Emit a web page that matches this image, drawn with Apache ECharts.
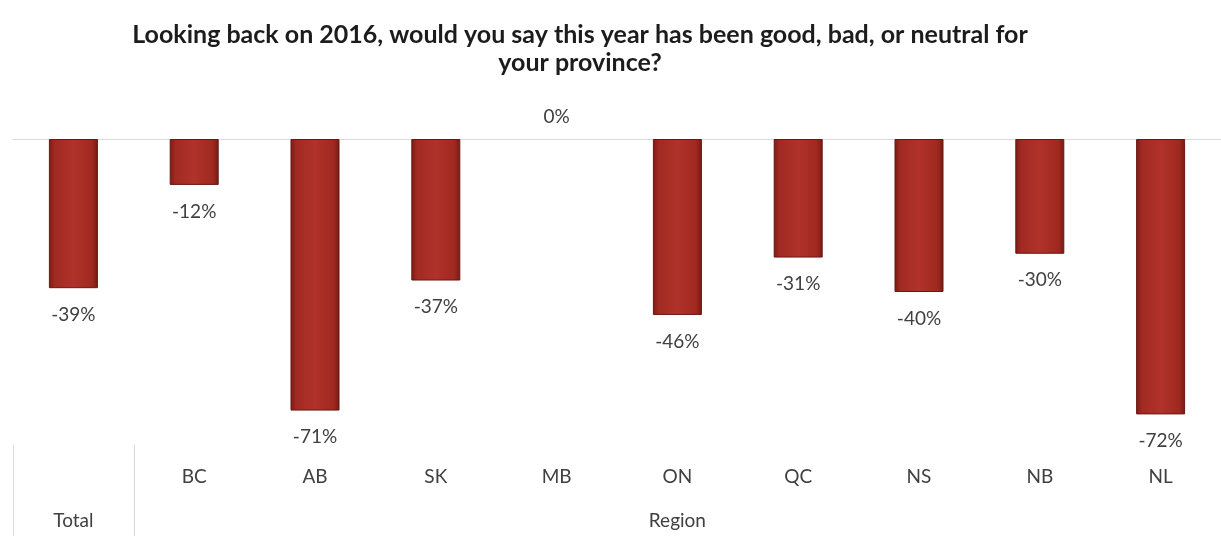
<!DOCTYPE html>
<html>
<head>
<meta charset="utf-8">
<script src="https://cdn.jsdelivr.net/npm/echarts@6/dist/echarts.min.js"></script>
<style>
  html, body { margin: 0; padding: 0; background: #ffffff; }
  #chart { width: 1221px; height: 536px; }
</style>
</head>
<body>
<div id="chart"></div>
<script>
const categories = ['Total', 'BC', 'AB', 'SK', 'MB', 'ON', 'QC', 'NS', 'NB', 'NL'];
const values = [-39, -12, -71, -37, 0, -46, -31, -40, -30, -72];
const groupLabels = ['Total', '', '', '', '', 'Region', '', '', '', ''];
const titleText = 'Looking back on 2016, would you say this year has been good, bad, or neutral for\nyour province?';

const chart = echarts.init(document.getElementById('chart'), null, { renderer: 'canvas' });

const barColor = new echarts.graphic.LinearGradient(0, 0, 1, 0, [
  { offset: 0, color: '#7c1c16' },
  { offset: 0.12, color: '#a12a22' },
  { offset: 0.5, color: '#b0322a' },
  { offset: 0.88, color: '#a0291f' },
  { offset: 1, color: '#741a14' }
]);

const labelColor = '#404040';
const font = 'Lato, "Open Sans", sans-serif';

chart.setOption({
  animation: false,
  backgroundColor: '#ffffff',
  title: {
    text: titleText,
    left: 580,
    top: 21,
    padding: 0,
    textAlign: 'center',
    textStyle: {
      fontFamily: font,
      fontWeight: 'bold',
      fontSize: 25,
      lineHeight: 28,
      color: '#1c1c1c'
    }
  },
  grid: { left: 13, right: -3, top: 139, bottom: 91, containLabel: false },
  xAxis: [
    {
      type: 'category',
      data: categories,
      position: 'bottom',
      axisLine: { show: false },
      axisTick: { show: false },
      axisLabel: {
        interval: 0,
        margin: 22,
        fontFamily: font,
        fontSize: 19,
        color: labelColor,
        formatter: (v, i) => (i === 0 ? '' : v)
      }
    },
    {
      type: 'category',
      data: groupLabels,
      position: 'bottom',
      axisLine: { show: false },
      axisTick: {
        show: true,
        length: 92,
        inside: false,
        interval: (i) => i === 0 || i === 1,
        lineStyle: { color: '#d9d9d9', width: 1 }
      },
      axisLabel: {
        interval: 0,
        margin: 66,
        fontFamily: font,
        fontSize: 19,
        color: labelColor
      }
    },
    {
      type: 'category',
      data: categories,
      position: 'top',
      axisLine: { show: true, lineStyle: { color: '#d9d9d9', width: 1 } },
      axisTick: { show: false },
      axisLabel: { show: false }
    }
  ],
  yAxis: {
    type: 'value',
    min: -80,
    max: 0,
    interval: 80,
    show: false,
    splitLine: { show: false }
  },
  series: [
    {
      type: 'bar',
      xAxisIndex: 0,
      barWidth: 49,
      data: values.map((v) => (v === 0
        ? { value: v, itemStyle: { borderWidth: 0, color: 'rgba(0,0,0,0)', borderColor: 'rgba(0,0,0,0)' }, label: { position: 'top', distance: 13 } }
        : { value: v })),
      itemStyle: {
        color: barColor,
        borderColor: '#6a1712',
        borderWidth: 1
      },
      label: {
        show: true,
        position: 'bottom',
        distance: 17,
        fontFamily: font,
        fontSize: 19,
        color: labelColor,
        formatter: (p) => p.value + '%'
      }
    }
  ]
});
</script>
</body>
</html>
